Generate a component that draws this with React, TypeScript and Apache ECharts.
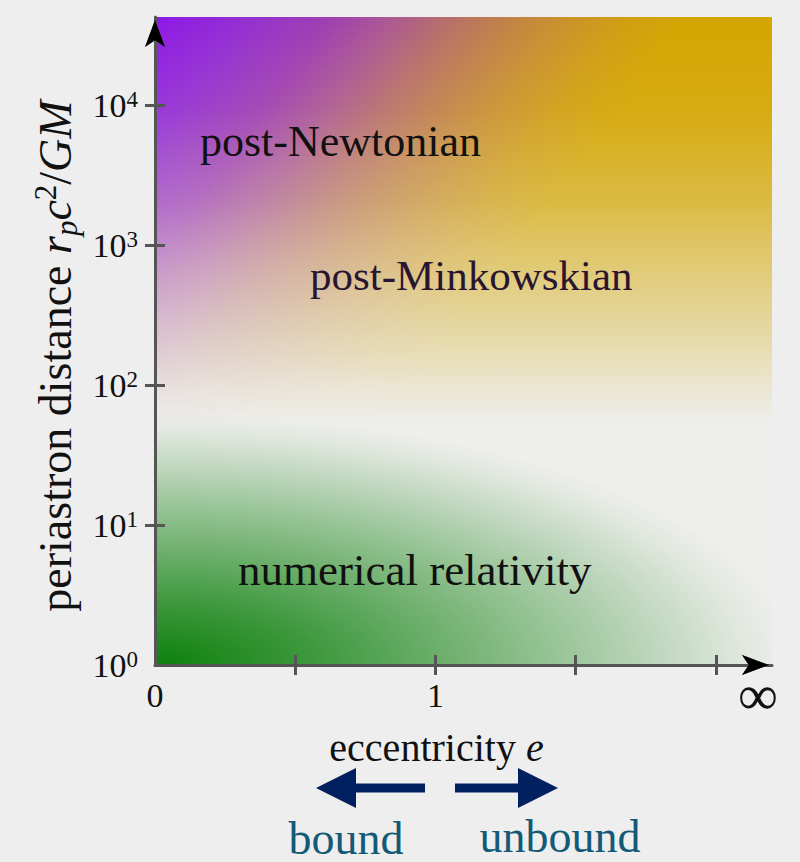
import React, { useEffect, useRef } from 'react';
import * as echarts from 'echarts';

// ---- axis values ----
const X_RANGE = [0, 2.2]; // eccentricity axis (2.15 stands for e -> infinity)
const Y_RANGE = [0, 4.63]; // log10 of r_p c^2 / GM
const X_TICK_VALUES = [0.5, 1, 1.5, 2];
const X_LABEL_VALUES = [0, 1, 2.15];
const X_LABEL_TEXTS = ['0', '1', '∞'];
const Y_TICK_EXPONENTS = [1, 2, 3, 4];
const Y_LABEL_EXPONENTS = [0, 1, 2, 3, 4];

// ---- regions ----
const REGION_NAMES = ['post-Newtonian', 'post-Minkowskian', 'numerical relativity'];
const DIRECTION_NAMES = ['bound', 'unbound'];
// PN <-> PM mid boundary, two points (e, log10 r)
const PN_PM_BOUNDARY_E = [1.085, 0.48];
const PN_PM_BOUNDARY_LOGR = [4.63, 2.975];
// fading of the analytic regions towards the white band (log10 r, level)
const FADE_LOGR = [4.63, 3.98, 3.31, 2.95, 2.6, 2.24, 1.96, 1.71, 0];
const FADE_LEVEL = [0, 0.07, 0.28, 0.45, 0.6, 0.76, 0.9, 1, 1];
// numerical-relativity region extent
const NR_EXTENT_E = 2.28;
const NR_EXTENT_LOGR = 1.8;
const NR_FADE_POS = [0, 0.25, 0.5, 0.75, 0.92, 1];
const NR_FADE_ALPHA = [1, 0.78, 0.52, 0.25, 0.06, 0];

const SERIF = "'Liberation Serif', 'DejaVu Serif', serif";
const AXIS_GRAY = '#555555';
const INK = '#111111';

const DIAG_STOPS = [
  [0.0, '#8e16ea'],
  [0.16, '#9430d0'],
  [0.29, '#a040b0'],
  [0.39, '#ad5a90'],
  [0.48, '#b87068'],
  [0.58, '#c28444'],
  [0.66, '#ca922c'],
  [0.75, '#d09e14'],
  [0.85, '#d4a600'],
  [1.0, '#d4a600'],
];

function renderBackdrop(params: any, api: any) {
  const p0 = api.coord([X_RANGE[0], Y_RANGE[0]]);
  const p1 = api.coord([X_RANGE[1], Y_RANGE[1]]);
  const x0 = p0[0], y0 = p0[1], x1 = p1[0], y1 = p1[1];
  const w = x1 - x0, h = y0 - y1;

  const a = api.coord([PN_PM_BOUNDARY_E[0], PN_PM_BOUNDARY_LOGR[0]]);
  const b = api.coord([PN_PM_BOUNDARY_E[1], PN_PM_BOUNDARY_LOGR[1]]);
  const mx = (a[0] + b[0]) / 2, my = (a[1] + b[1]) / 2;
  let nx = b[1] - a[1], ny = -(b[0] - a[0]);
  const len = Math.hypot(nx, ny);
  nx /= len; ny /= len;
  const diag = {
    type: 'linear',
    x: mx - 250 * nx, y: my - 250 * ny,
    x2: mx + 260 * nx, y2: my + 260 * ny,
    global: true,
    colorStops: DIAG_STOPS.map(([o, c]) => ({ offset: o, color: c })),
  };

  const fade = {
    type: 'linear', x: x0, y: y1, x2: x0, y2: y0, global: true,
    colorStops: FADE_LOGR.map((lr, i) => ({
      offset: Math.min(1, Math.max(0, (api.coord([0, lr])[1] - y1) / h)),
      color: `rgba(238,238,236,${FADE_LEVEL[i]})`,
    })),
  };

  const rx = api.coord([NR_EXTENT_E, 0])[0] - x0;
  const ry = y0 - api.coord([0, NR_EXTENT_LOGR])[1];
  const green = {
    type: 'radial', x: 0, y: 0, r: rx, global: true,
    colorStops: NR_FADE_POS.map((o, i) => ({ offset: o, color: `rgba(12,128,12,${NR_FADE_ALPHA[i]})` })),
  };

  return {
    type: 'group',
    children: [
      { type: 'rect', shape: { x: x0, y: y1, width: w, height: h }, style: { fill: diag } },
      { type: 'rect', shape: { x: x0, y: y1, width: w, height: h }, style: { fill: fade } },
      {
        type: 'rect', x: x0, y: y0, scaleX: 1, scaleY: ry / rx,
        shape: { x: 0, y: -rx, width: w, height: rx },
        style: { fill: green },
      },
    ],
  };
}

const tickLine = { color: AXIS_GRAY, width: 3 };
const axisLineStyle = {
  show: true, onZero: false, lineStyle: { color: AXIS_GRAY, width: 3 },
  symbol: ['none', 'arrow'], symbolSize: [15, 27], symbolOffset: [0, -3],
};
// black arrow heads drawn on top of the gray axis lines
const arrowHeadOnly = {
  show: true, onZero: false, lineStyle: { color: '#000000', width: 0, opacity: 1 },
  symbol: ['none', 'arrow'], symbolSize: [15, 27], symbolOffset: [0, -3],
};

const gridBox = { left: 155, right: 28, top: 17, bottom: 197 };

const option: any = {
  animation: false,
  backgroundColor: '#eeeeee',
  grid: [{ ...gridBox }, { ...gridBox }],
  xAxis: [
    {
      type: 'value', gridIndex: 0, min: X_RANGE[0], max: X_RANGE[1], interval: 0.5, z: 5,
      name: '{n|eccentricity }{i|e}', nameLocation: 'middle', nameGap: 53,
      nameTextStyle: {
        padding: [0, 54, 0, 0],
        rich: {
          n: { fontFamily: SERIF, fontSize: 40, color: INK },
          i: { fontFamily: SERIF, fontSize: 40, fontStyle: 'italic', color: INK },
        },
      },
      axisLine: axisLineStyle,
      axisTick: { show: true, customValues: X_TICK_VALUES, length: 10, lineStyle: tickLine },
      axisLabel: {
        customValues: X_LABEL_VALUES,
        formatter: (v: number) => {
          const i = X_LABEL_VALUES.findIndex((x) => Math.abs(x - v) < 1e-6);
          if (i < 0) return '';
          const t = X_LABEL_TEXTS[i];
          return t === '∞' ? '{inf|∞}' : '{d|' + t + '}';
        },
        margin: 13,
        rich: {
          d: { fontFamily: SERIF, fontSize: 34, lineHeight: 34, color: INK },
          inf: { fontFamily: SERIF, fontSize: 56, lineHeight: 34, color: INK },
        },
      },
      splitLine: { show: false },
    },
    {
      type: 'value', gridIndex: 1, min: X_RANGE[0], max: X_RANGE[1], interval: 0.5, z: 6,
      axisLine: arrowHeadOnly,
      axisTick: { show: true, inside: true, customValues: X_TICK_VALUES, length: 10, lineStyle: tickLine },
      axisLabel: { show: false },
      splitLine: { show: false },
    },
  ],
  yAxis: [
    {
      type: 'value', gridIndex: 0, min: Y_RANGE[0], max: Y_RANGE[1], interval: 1, z: 5,
      name: '{n|periastron distance }{i|r}{sub|p}{i|c}{sup|2}{n|/}{i|GM}',
      nameLocation: 'middle', nameGap: 70,
      nameTextStyle: {
        padding: [0, 30, 0, 0],
        rich: {
          n: { fontFamily: SERIF, fontSize: 46, lineHeight: 52, color: INK },
          i: { fontFamily: SERIF, fontSize: 46, lineHeight: 52, fontStyle: 'italic', color: INK },
          sub: { fontFamily: SERIF, fontSize: 31, lineHeight: 20, fontStyle: 'italic', verticalAlign: 'bottom', color: INK },
          sup: { fontFamily: SERIF, fontSize: 31, lineHeight: 18, verticalAlign: 'top', color: INK },
        },
      },
      axisLine: axisLineStyle,
      axisTick: { show: true, customValues: Y_TICK_EXPONENTS, length: 10, lineStyle: tickLine },
      axisLabel: {
        customValues: Y_LABEL_EXPONENTS,
        formatter: (v: number) => '{b|10}{s|' + Math.round(v) + '}',
        margin: 17,
        rich: {
          b: { fontFamily: SERIF, fontSize: 34, lineHeight: 34, color: INK },
          s: { fontFamily: SERIF, fontSize: 23, lineHeight: 12, verticalAlign: 'top', color: INK },
        },
      },
      splitLine: { show: false },
    },
    {
      type: 'value', gridIndex: 1, min: Y_RANGE[0], max: Y_RANGE[1], interval: 1, z: 6,
      axisLine: arrowHeadOnly,
      axisTick: { show: true, inside: true, customValues: Y_TICK_EXPONENTS, length: 10, lineStyle: tickLine },
      axisLabel: { show: false },
      splitLine: { show: false },
    },
  ],
  series: [
    {
      type: 'custom',
      coordinateSystem: 'cartesian2d',
      xAxisIndex: 0,
      yAxisIndex: 0,
      z: 1,
      silent: true,
      clip: false,
      data: [[0, 0]],
      renderItem: renderBackdrop,
    },
  ],
  graphic: [
    { type: 'text', z: 100, x: 200, y: 141, style: { text: REGION_NAMES[0], fontFamily: SERIF, fontSize: 44, fill: INK, align: 'left', verticalAlign: 'middle' } },
    { type: 'text', z: 100, x: 310, y: 275, style: { text: REGION_NAMES[1], fontFamily: SERIF, fontSize: 43, fill: '#2a1530', align: 'left', verticalAlign: 'middle' } },
    { type: 'text', z: 100, x: 238, y: 570, style: { text: REGION_NAMES[2], fontFamily: SERIF, fontSize: 45, fill: INK, align: 'left', verticalAlign: 'middle' } },
    {
      type: 'polygon', z: 100,
      shape: { points: [[316, 788], [356, 768], [356, 783.5], [425, 783.5], [425, 792.5], [356, 792.5], [356, 808]] },
      style: { fill: '#002060' },
    },
    {
      type: 'polygon', z: 100,
      shape: { points: [[558, 788], [518, 768], [518, 783.5], [455, 783.5], [455, 792.5], [518, 792.5], [518, 808]] },
      style: { fill: '#002060' },
    },
    { type: 'text', z: 100, x: 346, y: 838, style: { text: DIRECTION_NAMES[0], fontFamily: SERIF, fontSize: 46, lineHeight: 40, fill: '#125a76', align: 'center', verticalAlign: 'middle' } },
    { type: 'text', z: 100, x: 560, y: 836, style: { text: DIRECTION_NAMES[1], fontFamily: SERIF, fontSize: 46, lineHeight: 40, fill: '#125a76', align: 'center', verticalAlign: 'middle' } },
  ],
};

export default function App() {
  const ref = useRef<HTMLDivElement>(null);
  useEffect(() => {
    const chart = echarts.init(ref.current!, null, { renderer: 'svg' });
    chart.setOption(option);
    return () => chart.dispose();
  }, []);
  return (
    <div
      ref={ref}
      style={{ position: 'absolute', left: 0, top: 0, width: 800, height: 862, background: '#eeeeee' }}
    />
  );
}
